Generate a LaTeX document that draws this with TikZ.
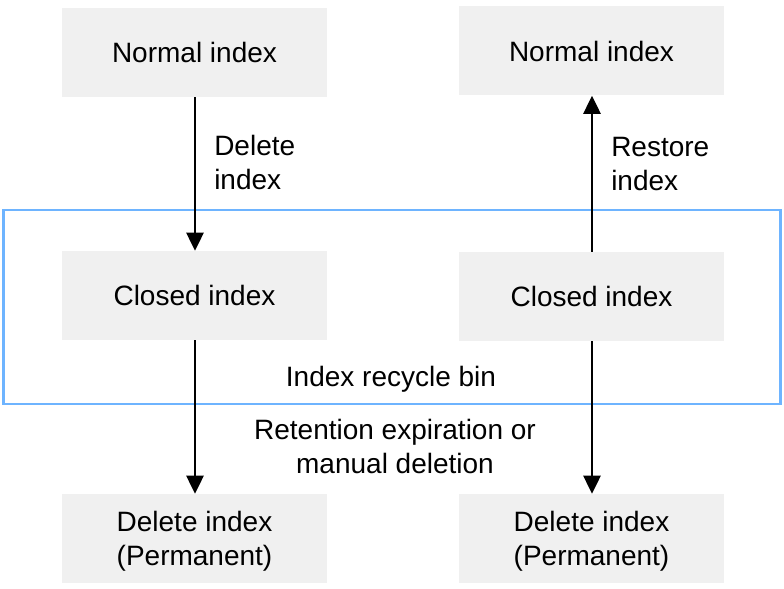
\documentclass[tikz,border=0pt]{standalone}
\usepackage{fontspec}
\setmainfont{Liberation Sans}
\usetikzlibrary{arrows.meta}
\definecolor{boxgray}{RGB}{240,240,240}
\definecolor{binblue}{RGB}{110,180,255}
\begin{document}
\begin{tikzpicture}[x=0.75pt,y=-0.75pt,
  box/.style={fill=boxgray,draw=none,minimum width=198.75pt,minimum height=66.75pt,inner sep=0pt,align=center,font=\fontsize{21}{25.5}\selectfont},
  lbl/.style={align=left,font=\fontsize{21}{25.5}\selectfont,inner sep=0pt},
  clbl/.style={align=center,font=\fontsize{21}{25.5}\selectfont,inner sep=0pt},
  arr/.style={line width=1pt,-{Triangle[width=13pt,length=13.5pt]}}]
\useasboundingbox (0,0) rectangle (784,588);
\node[box] (n1) at (194.5,52.5) {Normal index};
\node[box] (n2) at (591.5,51) {Normal index};
\node[box] (c1) at (194.5,295.5) {Closed index};
\node[box] (c2) at (591.5,296.5) {Closed index};
\node[box] (d1) at (194.5,538.5) {};
\node[box] (d2) at (591.5,538.5) {};
\node[clbl] (t1) at (194.5,541) {Delete index\\(Permanent)};
\node[clbl] (t2) at (591.5,541) {Delete index\\(Permanent)};
\draw[binblue,line width=2pt] (3.5,210) rectangle (780.5,404);
\node[clbl] (bin) at (391,379) {Index recycle bin};
\node[lbl,anchor=west] (dl) at (214,162) {Delete\\index};
\node[lbl,anchor=west] (rl) at (611,164) {Restore\\index};
\node[clbl] (rt) at (395,446) {Retention expiration or\\manual deletion};
\draw[arr] (n1.south -| 195,0) -- (c1.north -| 195,0);
\draw[arr] (c2.north -| 592,0) -- (n2.south -| 592,0);
\draw[arr] (c1.south -| 195,0) -- (d1.north -| 195,0);
\draw[arr] (c2.south -| 592,0) -- (d2.north -| 592,0);
\end{tikzpicture}
\end{document}
